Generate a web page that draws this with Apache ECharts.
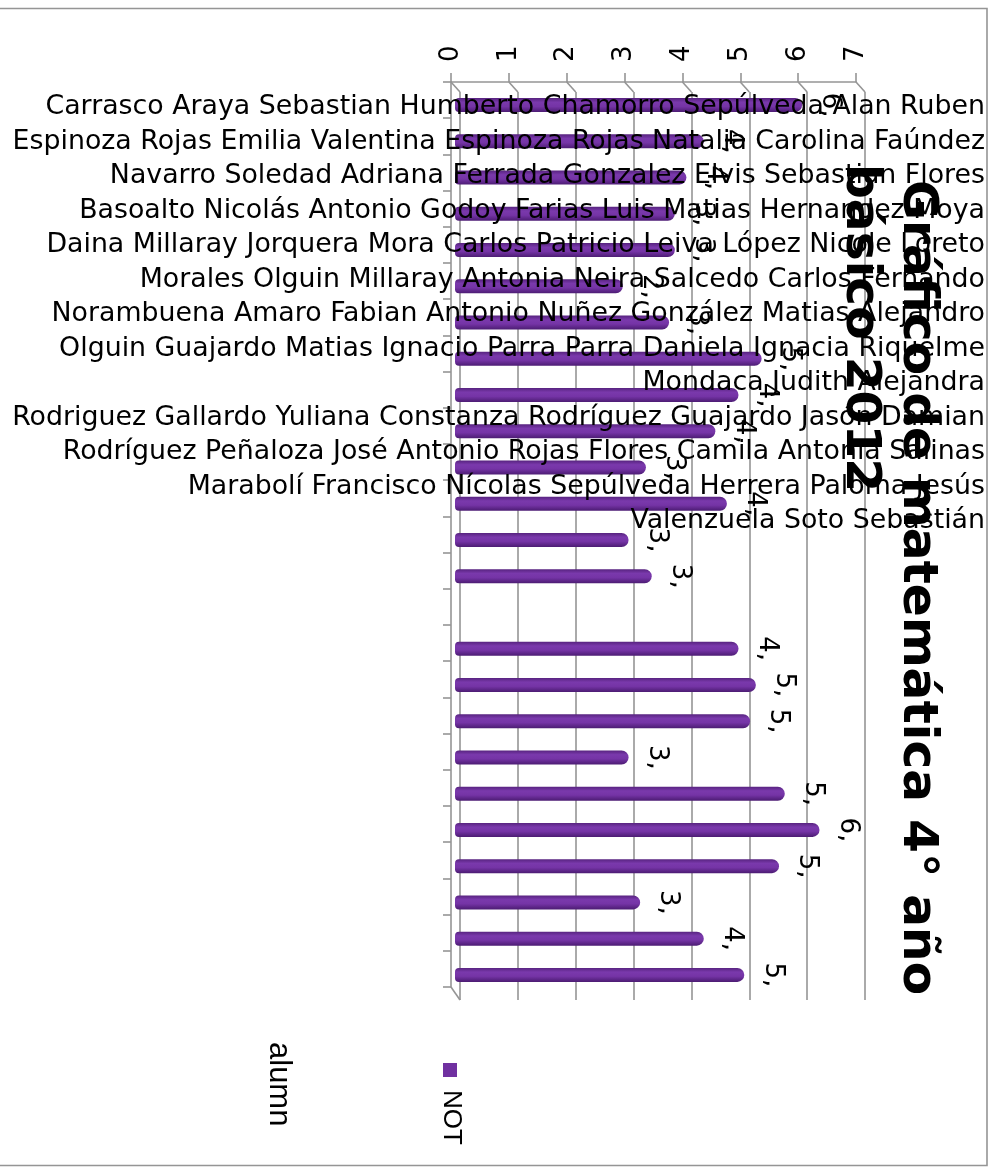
<!DOCTYPE html>
<html>
<head>
<meta charset="utf-8">
<title>Gráfico de matemática 4° año básico 2012</title>
<script src="https://cdn.jsdelivr.net/npm/echarts@6.0.0/dist/echarts.min.js"></script>
<style>
  html, body { margin: 0; padding: 0; background: #ffffff; }
  #chart { width: 996px; height: 1174px; }
</style>
</head>
<body>
<div id="chart"></div>
<script>
// Students (category order, top to bottom)
const alumnos = [
  'Carrasco Araya Sebastian Humberto',
  'Chamorro Sepúlveda Alan Ruben',
  'Espinoza Rojas Emilia Valentina',
  'Espinoza Rojas Natalia Carolina',
  'Faúndez Navarro Soledad Adriana',
  'Ferrada Gonzalez Elvis Sebastian',
  'Flores Basoalto Nicolás Antonio',
  'Godoy Farias Luis Matias',
  'Hernandez Moya Daina Millaray',
  'Jorquera Mora Carlos Patricio',
  'Leiva López Nicole Loreto',
  'Morales Olguin Millaray Antonia',
  'Neira Salcedo Carlos Fernando',
  'Norambuena Amaro Fabian Antonio',
  'Nuñez González Matias Alejandro',
  'Olguin Guajardo Matias Ignacio',
  'Parra Parra Daniela Ignacia',
  'Riquelme Mondaca Judith Alejandra',
  'Rodriguez Gallardo Yuliana Constanza',
  'Rodríguez Guajardo Jasón Damian',
  'Rodríguez Peñaloza José Antonio',
  'Rojas Flores Camila Antonia',
  'Salinas Marabolí Francisco Nícolas',
  'Sepúlveda Herrera Paloma Jesús',
  'Valenzuela Soto Sebastián'
];

// Grade (NOT) for each student; null = no grade
const notas = [6.0, 4.3, 4.0, 3.8, 3.8, 2.9, 3.7, 5.3, 4.9, 4.5, 3.3, 4.7, 3.0, 3.4, null,
               4.9, 5.2, 5.1, 3.0, 5.7, 6.3, 5.6, 3.2, 4.3, 5.0];

// Value-axis ticks
const valorTicks = [0, 1, 2, 3, 4, 5, 6, 7];

// Student names as they are laid out in the label block
const lineasNombres = [
  'Carrasco Araya Sebastian Humberto Chamorro Sepúlveda Alan Ruben',
  'Espinoza Rojas Emilia Valentina Espinoza Rojas Natalia Carolina Faúndez',
  'Navarro Soledad Adriana Ferrada Gonzalez Elvis Sebastian Flores',
  'Basoalto Nicolás Antonio Godoy Farias Luis Matias Hernandez Moya',
  'Daina Millaray Jorquera Mora Carlos Patricio Leiva López Nicole Loreto',
  'Morales Olguin Millaray Antonia Neira Salcedo Carlos Fernando',
  'Norambuena Amaro Fabian Antonio Nuñez González Matias Alejandro',
  'Olguin Guajardo Matias Ignacio Parra Parra Daniela Ignacia Riquelme',
  'Mondaca Judith Alejandra',
  'Rodriguez Gallardo Yuliana Constanza Rodríguez Guajardo Jasón Damian',
  'Rodríguez Peñaloza José Antonio Rojas Flores Camila Antonia Salinas',
  'Marabolí Francisco Nícolas Sepúlveda Herrera Paloma Jesús',
  'Valenzuela Soto Sebastián'
];

const tituloLinea1 = 'Gráfico de matemática 4° año';
const tituloLinea2 = 'básico 2012';
const serieNombre = 'NOT';
const ejeNombre = 'alumn';

const AXIS_GRAY = '#959595';
const PURPLE = '#7030a0';
const FONT = 'DejaVu Sans';

const chart = echarts.init(document.getElementById('chart'), null, { renderer: 'canvas' });

const option = {
  backgroundColor: '#ffffff',
  animation: false,
  grid: [
    // bars
    { left: 455, top: 87, width: 405, height: 906 },
    // back wall (gridlines)
    { left: 460, top: 92, width: 405, height: 908 },
    // front axes
    { left: 451, top: 82, width: 405, height: 905 }
  ],
  xAxis: [
    { gridIndex: 0, type: 'value', min: 0, max: 7, interval: 1, show: false },
    {
      gridIndex: 1, type: 'value', min: 0, max: 7, interval: 1,
      axisLine: { show: false }, axisTick: { show: false }, axisLabel: { show: false },
      splitLine: { show: true, lineStyle: { color: AXIS_GRAY, width: 1.6 } }
    },
    {
      gridIndex: 2, type: 'value', min: 0, max: 7, interval: 1, position: 'top',
      axisLine: { show: true, lineStyle: { color: AXIS_GRAY, width: 1.6 } },
      axisTick: { show: true, length: 9, lineStyle: { color: AXIS_GRAY, width: 1.6 } },
      axisLabel: {
        show: true, rotate: -90, margin: 20,
        fontFamily: FONT, fontSize: 26, color: '#000'
      },
      splitLine: { show: false }
    }
  ],
  yAxis: [
    { gridIndex: 0, type: 'category', data: alumnos, inverse: true, show: false },
    { gridIndex: 1, type: 'category', data: alumnos, inverse: true, show: false },
    {
      gridIndex: 2, type: 'category', data: alumnos, inverse: true,
      axisLine: { show: true, lineStyle: { color: AXIS_GRAY, width: 1.6 } },
      axisTick: { show: true, length: 8, lineStyle: { color: AXIS_GRAY, width: 1.6 } },
      axisLabel: { show: false },
      splitLine: { show: false }
    }
  ],
  series: [
    {
      name: serieNombre,
      type: 'bar',
      xAxisIndex: 0,
      yAxisIndex: 0,
      data: notas,
      barWidth: 14,
      itemStyle: {
        borderRadius: [4, 7, 7, 4],
        color: new echarts.graphic.LinearGradient(0, 0, 0, 1, [
          { offset: 0, color: '#57237f' },
          { offset: 0.3, color: '#7a39ac' },
          { offset: 0.6, color: '#7534a6' },
          { offset: 1, color: '#4c1c73' }
        ])
      },
      label: {
        show: true,
        position: 'right',
        distance: 20,
        rotate: -90,
        align: 'center',
        verticalAlign: 'middle',
        offset: [0, -8],
        fontFamily: FONT,
        fontSize: 26,
        color: '#000',
        formatter: p => Math.floor(p.value) + ','
      },
      z: 3
    },
    {
      // depth connectors between the front axes and the back wall
      type: 'custom',
      xAxisIndex: 2,
      yAxisIndex: 2,
      clip: false,
      silent: true,
      data: valorTicks.map(v => [v, 0]),
      renderItem: function (params, api) {
        const cs = params.coordSys;
        const x = api.coord([api.value(0), 0])[0];
        const style = { stroke: AXIS_GRAY, lineWidth: 1.6, fill: null };
        const children = [{
          type: 'line',
          shape: { x1: x, y1: cs.y, x2: x + 9, y2: cs.y + 10 },
          style: style
        }];
        if (params.dataIndex === 0) {
          children.push({
            type: 'line',
            shape: { x1: cs.x, y1: cs.y + cs.height, x2: cs.x + 9, y2: cs.y + cs.height + 13 },
            style: style
          });
        }
        return { type: 'group', children: children };
      },
      z: 1
    }
  ],
  graphic: [
    {
      type: 'rect',
      shape: { x: -3, y: 8.5, width: 990, height: 1157 },
      style: { fill: null, stroke: AXIS_GRAY, lineWidth: 1.6 },
      z: 0
    },
    {
      type: 'text',
      x: 985, y: 90,
      style: {
        text: lineasNombres.join('\n'),
        align: 'right', verticalAlign: 'top',
        font: '26.8px "' + FONT + '"',
        lineHeight: 34.5,
        fill: '#000'
      },
      z: 20
    },
    {
      type: 'text',
      x: 917, y: 180,
      rotation: -Math.PI / 2,
      style: {
        text: tituloLinea1,
        align: 'left', verticalAlign: 'middle',
        font: 'bold 48.7px "' + FONT + '"',
        fill: '#000'
      },
      z: 21
    },
    {
      type: 'text',
      x: 860, y: 164,
      rotation: -Math.PI / 2,
      style: {
        text: tituloLinea2,
        align: 'left', verticalAlign: 'middle',
        font: 'bold 48.7px "' + FONT + '"',
        fill: '#000'
      },
      z: 21
    },
    {
      type: 'text',
      x: 279, y: 1042,
      rotation: -Math.PI / 2,
      style: {
        text: ejeNombre,
        align: 'left', verticalAlign: 'middle',
        font: '31px "Liberation Sans"',
        fill: '#000'
      }
    },
    {
      type: 'rect',
      shape: { x: 443, y: 1063, width: 14, height: 14 },
      style: { fill: PURPLE }
    },
    {
      type: 'text',
      x: 451, y: 1090,
      rotation: -Math.PI / 2,
      style: {
        text: serieNombre,
        align: 'left', verticalAlign: 'middle',
        font: '26px "Liberation Sans"',
        fill: '#000'
      }
    }
  ]
};

chart.setOption(option);
</script>
</body>
</html>
